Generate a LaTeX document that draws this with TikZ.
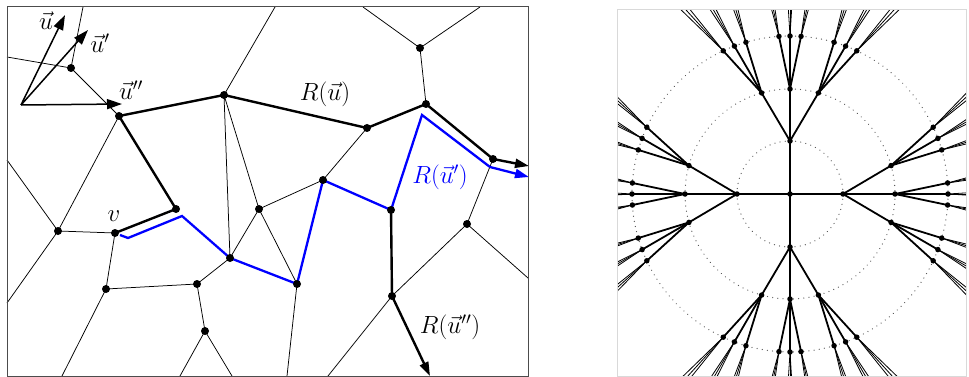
\documentclass[tikz,border=0pt]{standalone}
\usetikzlibrary{arrows.meta,calc}
\begin{document}
\begin{tikzpicture}[x=1pt,y=-1pt,
  thinE/.style={line width=0.75pt},
  thickE/.style={line width=2.4pt},
  blueE/.style={blue,line width=2.3pt,line join=miter},
  vecA/.style={line width=1.5pt,-{Triangle[length=15pt,width=10pt]}},
  pathA/.style={line width=2.4pt,-{Triangle[length=14pt,width=9pt]}},
  ldot/.style={circle,fill=black,inner sep=0pt,minimum size=8pt},
  rdot/.style={circle,fill=black,inner sep=0pt,minimum size=5.5pt},
  lbl/.style={inner sep=0pt,font=\fontsize{23}{27}\selectfont},
  treeE/.style={line width=1.8pt},
  leafE/.style={line width=0.8pt},
  ring/.style={black!65,line width=1.3pt,line cap=round,dash pattern=on 0.01pt off 5.2pt}]
\useasboundingbox (0,0) rectangle (969,377);

% ---------------- left panel ----------------
\coordinate (A) at (21,105);
\coordinate (U1) at (65,15);
\coordinate (U2) at (88,30);
\coordinate (U3) at (122,104);
\coordinate (n1) at (71,68);
\coordinate (n2) at (119,116);
\coordinate (n3) at (224,95);
\coordinate (n4) at (420,48);
\coordinate (n5) at (426,104);
\coordinate (n6) at (367,128);
\coordinate (n7) at (493,159);
\coordinate (n8) at (58,231);
\coordinate (v) at (115,233);
\coordinate (n10) at (176,209);
\coordinate (n11) at (259,209);
\coordinate (n12) at (323,180);
\coordinate (n13) at (230,258);
\coordinate (n14) at (391,210);
\coordinate (n15) at (467,224);
\coordinate (n16) at (106,289);
\coordinate (n17) at (197,284);
\coordinate (n18) at (205,331);
\coordinate (n19) at (297,284);
\coordinate (n20) at (392,296);
\coordinate (e1) at (7,57);
\coordinate (e2) at (83,7);
\coordinate (e3) at (7,160);
\coordinate (e4) at (7,303);
\coordinate (e5) at (62,376);
\coordinate (e6) at (180,376);
\coordinate (e7) at (232,376);
\coordinate (e8) at (287,376);
\coordinate (e9) at (275,7);
\coordinate (e10) at (363,7);
\coordinate (e11) at (480,7);
\coordinate (e12) at (328,376);
\coordinate (e13) at (528,278);
\coordinate (t1) at (529,166);
\coordinate (t2) at (529,177);
\coordinate (t3) at (430,376);
\coordinate (b1) at (120,235);
\coordinate (b2) at (128,238);
\coordinate (b3) at (182,216);
\coordinate (b4) at (422,115);
\coordinate (b5) at (490,167);

% thin edges
\draw[thinE] (e1) -- (n1) -- (e2);
\draw[thinE] (n1) -- (n2) -- (n8);
\draw[thinE] (e3) -- (n8) -- (e4);
\draw[thinE] (n8) -- (v) -- (n16) -- (e5);
\draw[thinE] (n16) -- (n17) -- (n13);
\draw[thinE] (n17) -- (n18) -- (e6);
\draw[thinE] (n18) -- (e7);
\draw[thinE] (n13) -- (n3) -- (n11) -- (n13);
\draw[thinE] (n11) -- (n12) -- (n6);
\draw[thinE] (n11) -- (n19) -- (e8);
\draw[thinE] (n13) -- (n19);
\draw[thinE] (n3) -- (e9);
\draw[thinE] (e10) -- (n4) -- (e11);
\draw[thinE] (n4) -- (n5);
\draw[thinE] (e12) -- (n20) -- (n15) -- (n7);
\draw[thinE] (n15) -- (e13);

% vectors
\draw[vecA] (A) -- (U1);
\draw[vecA] (A) -- (U2);
\draw[vecA] (A) -- (U3);

% thick paths
\draw[thickE,line join=round] (v) -- (n10) -- (n2) -- (n3) -- (n6) -- (n5) -- (n7);
\draw[pathA] (n7) -- (t1);
\draw[thickE] (n14) -- (n20);
\draw[pathA] (n20) -- (t3);

% blue path
\draw[blueE] (b1) -- (b2) -- (b3) -- (n13) -- (n19) -- (n12) -- (n14) -- (b4) -- (b5);
\draw[blueE,-{Triangle[length=14pt,width=9pt]}] (b5) -- (t2);

% dots
\foreach \p in {n1,n2,n3,n4,n5,n6,n7,n8,v,n10,n11,n12,n13,n14,n15,n16,n17,n18,n19,n20}
  \node[ldot] at (\p) {};

% frame
\draw[black!70,line width=1pt] (7,7) rectangle (528,376);

% labels
\node[lbl] (lu) at (46,21) {$\vec{u}$};
\node[lbl] (lu1) at (100,43) {$\vec{u}'$};
\node[lbl] (lu2) at (131,90) {$\vec{u}''$};
\node[lbl] (lR) at (325,94) {$R(\vec{u})$};
\node[lbl,text=blue] (lR1) at (440,177) {$R(\vec{u}')$};
\node[lbl] (lv) at (114,216) {$v$};
\node[lbl] (lR2) at (450,327) {$R(\vec{u}'')$};

% ---------------- right panel ----------------
\coordinate (C) at (790,194);
\begin{scope}
\clip (617,10) rectangle (966.5,376);
\foreach \r in {53,105,158} \draw[ring] (C) circle (\r);
\foreach \t in {0,90,180,270}{
  \coordinate (a) at ($(C)+(\t:53)$);
  \draw[treeE] (C) -- (a);
  \foreach \s/\l in {0/{-4,0,4},15.7/{16.2,20.6,25},-15.7/{-16.2,-20.6,-25}}{
    \coordinate (b) at ($(C)+(\t+\s:105)$);
    \draw[treeE] (a) -- (b);
    \foreach \d in \l {
      \coordinate (c) at ($(C)+(\t+\d:158)$);
      \coordinate (e) at ($(b)!2!(c)$);
      \foreach \w in {-3.5,0,3.5} \draw[leafE] (c) -- ($(c)!2.6!\w:(e)$);
      \draw[treeE] (b) -- (c);
    }
  }
}
\foreach \t in {0,90,180,270}{
  \node[rdot] at ($(C)+(\t:53)$) {};
  \foreach \s/\l in {0/{-4,0,4},15.7/{16.2,20.6,25},-15.7/{-16.2,-20.6,-25}}{
    \node[rdot] at ($(C)+(\t+\s:105)$) {};
    \foreach \d in \l \node[rdot] at ($(C)+(\t+\d:158)$) {};
  }
}
\node[rdot] (ctr) at (C) {};
\end{scope}
\draw[black!15,line width=1pt] (617,10) rectangle (966.5,376);
\end{tikzpicture}
\end{document}
